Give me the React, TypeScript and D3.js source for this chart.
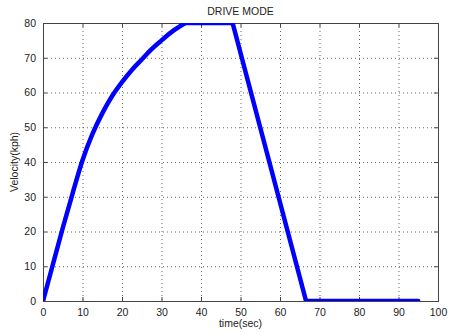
import * as d3 from "d3";
import { useEffect, useRef } from "react";

// drive cycle
// acceleration phase (smooth)
const accelTime = [0, 2.5, 5, 7.5, 10, 12.5, 15, 17.5, 20, 22.5, 25, 27.5, 30, 33, 36];
const accelKph = [0, 10.5, 21, 31, 40.5, 48, 54, 59, 63, 66.5, 69.5, 72.5, 75, 77.8, 80];
// cruise, braking, stop (straight segments)
const restTime = [36, 48, 66.6, 95];
const restKph = [80, 80, 0, 0];
const xTicks = [0, 10, 20, 30, 40, 50, 60, 70, 80, 90, 100];
const yTicks = [0, 10, 20, 30, 40, 50, 60, 70, 80];

const W = 449;
const H = 333;
const margin = { left: 43, right: 11, top: 23, bottom: 32 };

const App = () => {
  const svgRef = useRef<SVGSVGElement>(null);

  useEffect(() => {
    const width = W - margin.left - margin.right;
    const height = H - margin.top - margin.bottom;
    const svgEl = d3.select(svgRef.current);
    svgEl.selectAll("*").remove();

    const x = d3.scaleLinear().domain([0, 100]).range([0, width]);
    const y = d3.scaleLinear().domain([0, 80]).range([height, 0]);

    svgEl.append("rect").attr("width", W).attr("height", H).attr("fill", "#fff");

    const svg = svgEl
      .append("g")
      .attr("transform", `translate(${margin.left},${margin.top})`);

    svgEl
      .append("defs")
      .append("clipPath")
      .attr("id", "plotclip")
      .append("rect")
      .attr("x", margin.left)
      .attr("y", margin.top)
      .attr("width", width)
      .attr("height", height);

    // dotted grid
    const grid = svg.append("g").attr("stroke", "#666").attr("stroke-dasharray", "1,3");
    grid
      .selectAll(".vx")
      .data(xTicks.slice(1, -1))
      .join("line")
      .attr("x1", (d) => x(d) + 0.5)
      .attr("x2", (d) => x(d) + 0.5)
      .attr("y1", 0)
      .attr("y2", height);
    grid
      .selectAll(".hy")
      .data(yTicks.slice(1, -1))
      .join("line")
      .attr("y1", (d) => y(d) + 0.5)
      .attr("y2", (d) => y(d) + 0.5)
      .attr("x1", 0)
      .attr("x2", width);

    // the velocity line
    const plot = svgEl
      .append("g")
      .attr("clip-path", "url(#plotclip)")
      .append("g")
      .attr("transform", `translate(${margin.left},${margin.top})`);

    const smooth = d3
      .line<number>()
      .x((d, i) => x(accelTime[i]))
      .y((d) => y(d))
      .curve(d3.curveMonotoneX);
    const straight = d3
      .line<number>()
      .x((d, i) => x(restTime[i]))
      .y((d) => y(d));

    [smooth(accelKph), straight(restKph)].forEach((dPath) => {
      plot
        .append("path")
        .attr("d", dPath)
        .attr("fill", "none")
        .attr("stroke", "#0000ff")
        .attr("stroke-width", 4.5)
        .attr("stroke-linejoin", "round")
        .attr("stroke-linecap", "round");
    });

    // axes, MATLAB style: inward ticks on all four sides
    const font = "Arial, 'Liberation Sans', sans-serif";
    const styleAxis = (g: any) => {
      g.select(".domain").remove();
      g.selectAll("line").attr("stroke", "#444");
      g.selectAll("text").attr("fill", "#222").attr("font-size", "10.5px").attr("font-family", font);
    };

    svg
      .append("g")
      .attr("transform", `translate(0,${height})`)
      .call(d3.axisBottom(x).tickValues(xTicks).tickSize(-4).tickPadding(8))
      .call(styleAxis);
    svg
      .append("g")
      .call(d3.axisLeft(y).tickValues(yTicks).tickSize(-4).tickPadding(7))
      .call(styleAxis);
    svg
      .append("g")
      .call(d3.axisTop(x).tickValues(xTicks).tickSize(-4).tickFormat(() => ""))
      .call(styleAxis);
    svg
      .append("g")
      .attr("transform", `translate(${width},0)`)
      .call(d3.axisRight(y).tickValues(yTicks).tickSize(-4).tickFormat(() => ""))
      .call(styleAxis);

    svg
      .append("rect")
      .attr("x", 0.5)
      .attr("y", 0.5)
      .attr("width", width)
      .attr("height", height)
      .attr("fill", "none")
      .attr("stroke", "#444");

    // labels
    svg
      .append("text")
      .attr("x", width / 2)
      .attr("y", -8)
      .attr("text-anchor", "middle")
      .attr("font-size", "10.5px")
      .attr("font-family", font)
      .attr("fill", "#222")
      .text("DRIVE MODE");
    svg
      .append("text")
      .attr("x", width / 2)
      .attr("y", height + 26)
      .attr("text-anchor", "middle")
      .attr("font-size", "10.5px")
      .attr("font-family", font)
      .attr("fill", "#222")
      .text("time(sec)");
    svg
      .append("text")
      .attr("transform", `translate(${-25},${height / 2}) rotate(-90)`)
      .attr("text-anchor", "middle")
      .attr("font-size", "10.5px")
      .attr("font-family", font)
      .attr("fill", "#222")
      .text("Velocity(kph)");
  }, []);

  return (
    <div style={{ position: "absolute", left: 0, top: 0 }}>
      <svg ref={svgRef} width={W} height={H} style={{ display: "block" }}></svg>
    </div>
  );
};

export default App;
